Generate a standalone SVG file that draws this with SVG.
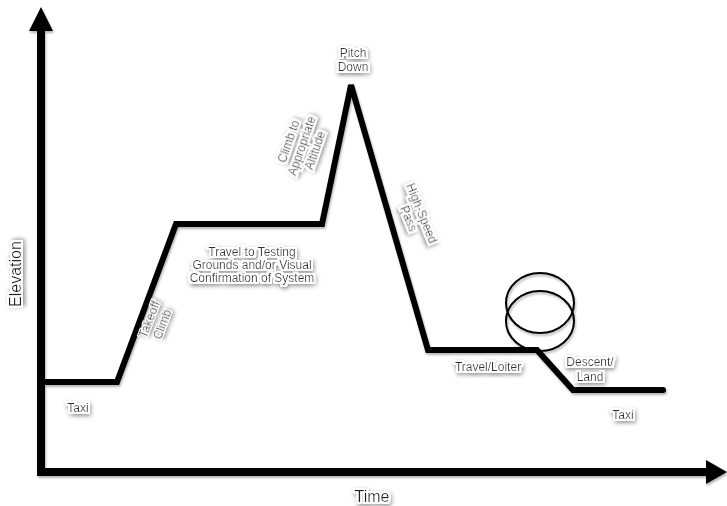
<svg xmlns="http://www.w3.org/2000/svg" width="727" height="506" viewBox="0 0 727 506">
<defs>
<filter id="halo" x="-30%" y="-60%" width="160%" height="220%">
<feMorphology in="SourceAlpha" operator="dilate" radius="1.5" result="d"/>
<feGaussianBlur in="d" stdDeviation="2" result="b"/>
<feOffset in="b" dx="1" dy="2" result="o"/>
<feFlood flood-color="#000" flood-opacity="0.45"/>
<feComposite in2="o" operator="in" result="sh"/>
<feGaussianBlur in="d" stdDeviation="0.6" result="dw"/>
<feFlood flood-color="#ffffff"/>
<feComposite in2="dw" operator="in" result="w"/>
<feMerge><feMergeNode in="sh"/><feMergeNode in="w"/><feMergeNode in="w"/><feMergeNode in="SourceGraphic"/></feMerge>
</filter>
<filter id="lsh" x="-5%" y="-5%" width="110%" height="110%">
<feGaussianBlur in="SourceAlpha" stdDeviation="1.2"/>
<feOffset dx="1" dy="2" result="o"/>
<feFlood flood-color="#000" flood-opacity="0.3"/>
<feComposite in2="o" operator="in" result="sh"/>
<feMerge><feMergeNode in="sh"/><feMergeNode in="SourceGraphic"/></feMerge>
</filter>
</defs>
<style>
.lbl{font-family:"Liberation Sans",Arial,sans-serif;font-size:12px;fill:#333;text-anchor:middle;filter:url(#halo)}
.big{font-size:16px;fill:#222}
.prof{fill:none;stroke:#000;stroke-width:6;stroke-linejoin:miter;stroke-linecap:round}
.axis{fill:none;stroke:#000;stroke-width:8}
.loop{fill:none;stroke:#000;stroke-width:2}
</style>
<rect width="727" height="506" fill="#fff"/>
<g id="connectors" filter="url(#lsh)">
<line class="axis" x1="41" y1="476" x2="41" y2="28"/>
<polygon points="41,7 29,31 53,31" fill="#000"/>
<line class="axis" x1="37" y1="472" x2="708" y2="472"/>
<polygon points="727,472 706,460 706,484" fill="#000"/>
<polyline class="prof" points="44,382 117,382 176,224 322,224 351,85 428,350 537,350 573,390 663,390"/>
<ellipse class="loop" cx="540" cy="303" rx="34" ry="30"/>
<ellipse class="loop" cx="540" cy="321" rx="34" ry="30"/>
</g>
<g id="label-elevation"><text class="lbl big" transform="translate(15,274) rotate(-90)" x="0" y="6">Elevation</text></g>
<g id="label-time"><text class="lbl big" x="372" y="502">Time</text></g>
<g id="label-taxi-start"><text class="lbl" x="78" y="412">Taxi</text></g>
<g id="label-takeoff" transform="translate(156,322) rotate(-69)"><text class="lbl" x="0" y="-3">Takeoff</text><text class="lbl" x="0" y="11">Climb</text></g>
<g id="label-travel-testing"><text class="lbl" x="252" y="256">Travel to Testing</text><text class="lbl" x="252" y="269">Grounds and/or Visual</text><text class="lbl" x="252" y="282">Confirmation of System</text></g>
<g id="label-climb-altitude" transform="translate(302,146) rotate(-71)"><text class="lbl" x="0" y="-10">Climb to</text><text class="lbl" x="0" y="4">Appropriate</text><text class="lbl" x="0" y="18">Altitude</text></g>
<g id="label-pitch-down"><text class="lbl" x="353" y="57">Pitch</text><text class="lbl" x="353" y="71">Down</text></g>
<g id="label-high-speed" transform="translate(415,216) rotate(68)"><text class="lbl" x="0" y="-3">High-Speed</text><text class="lbl" x="0" y="11">Pass</text></g>
<g id="label-travel-loiter"><text class="lbl" x="488" y="371">Travel/Loiter</text></g>
<g id="label-descent"><text class="lbl" x="590" y="366">Descent/</text><text class="lbl" x="590" y="381">Land</text></g>
<g id="label-taxi-end"><text class="lbl" x="623" y="419">Taxi</text></g>
</svg>
